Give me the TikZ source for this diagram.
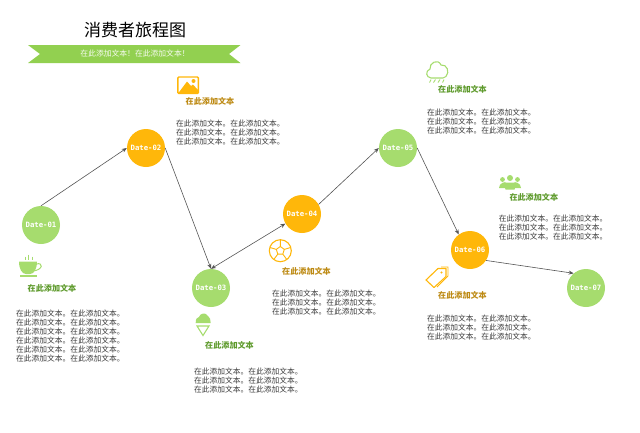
\documentclass[tikz,border=0pt]{standalone}
\usepackage{fontspec}
\setmainfont{Noto Sans CJK SC}
\newfontfamily\datefont{DejaVu Sans Mono}
\usetikzlibrary{arrows.meta}
\definecolor{StepGreen}{HTML}{A6DC6E}
\definecolor{StepOrange}{HTML}{FFB70A}
\definecolor{BannerGreen}{HTML}{92D050}
\definecolor{LabelGreen}{HTML}{5E9A2C}
\definecolor{LabelOrange}{HTML}{BD8A14}
\definecolor{BodyGray}{HTML}{3A3A3A}
\definecolor{LinkGray}{HTML}{555555}
\newcommand{\bodyline}{在此添加文本。在此添加文本。}
\tikzset{
    date node/.style={circle, minimum size=38pt, inner sep=0pt, text=white,
        font=\datefont\bfseries\fontsize{7.3}{8}\selectfont},
    date green/.style={date node, fill=StepGreen},
    date orange/.style={date node, fill=StepOrange},
    link/.style={draw=LinkGray, line width=0.6pt, -{Stealth[length=5pt, width=4pt]}},
    body text/.style={anchor=north west, align=left, inner sep=0pt, text=BodyGray,
        font=\fontsize{7.75}{9}\selectfont},
    label text/.style={anchor=west, inner sep=0pt,
        font=\bfseries\fontsize{8.1}{9}\selectfont},
    label green/.style={label text, text=LabelGreen},
    label orange/.style={label text, text=LabelOrange}
}

\begin{document}
\begin{tikzpicture}[x=1pt, y=-1pt]
\useasboundingbox (0,0) rectangle (640,432);

% Titulo y cinta
\node[inner sep=0pt, text=black, font=\fontsize{17}{18}\selectfont] (title) at (135,30) {消费者旅程图};
\fill[BannerGreen] (28,45) -- (240.5,45) -- (229,54) -- (240.5,63) -- (28,63) -- (40,54) -- cycle;
\node[inner sep=0pt, text=white!92!BannerGreen, font=\fontsize{7.8}{9}\selectfont] (subtitle) at (135,53.5) {在此添加文本！在此添加文本！};

% Circulos de cada fecha
\node[date green] (d1) at (41,225) {Date-01};
\node[date orange] (d2) at (146,148) {Date-02};
\node[date green] (d3) at (211,288) {Date-03};
\node[date orange] (d4) at (302,214) {Date-04};
\node[date green] (d5) at (398,148) {Date-05};
\node[date orange] (d6) at (470,250) {Date-06};
\node[date green] (d7) at (586,288) {Date-07};

% Conectores
\draw[link] (d1.north) -- (d2.west);
\draw[link] (d2.east) -- (d3.north);
\draw[link, {Stealth[length=5pt, width=4pt]}-{Stealth[length=5pt, width=4pt]}] (d3.north) -- (d4.210);
\draw[link] (d4.30) -- (d5.west);
\draw[link] (d5.east) -- (d6.126);
\draw[link] (d6.-33) -- (d7.130);

% Etiquetas
\node[label green] (label1) at (27.5,288.2) {在此添加文本};
\node[label orange] (label2) at (185.5,101) {在此添加文本};
\node[label green] (label3) at (205,345.2) {在此添加文本};
\node[label orange] (label4) at (282,271.5) {在此添加文本};
\node[label green] (label5) at (438,89.8) {在此添加文本};
\node[label green] (label6a) at (509.3,197.2) {在此添加文本};
\node[label orange] (label6) at (438,295.8) {在此添加文本};

% Bloques de texto
\node[body text] (body1) at (16,309.8) {\bodyline\\\bodyline\\\bodyline\\\bodyline\\\bodyline\\\bodyline};
\node[body text] (body2) at (176,120) {\bodyline\\\bodyline\\\bodyline};
\node[body text] (body3) at (194,367.8) {\bodyline\\\bodyline\\\bodyline};
\node[body text] (body4) at (272,290.2) {\bodyline\\\bodyline\\\bodyline};
\node[body text] (body5) at (427,108.8) {\bodyline\\\bodyline\\\bodyline};
\node[body text] (body6a) at (498.7,215.2) {\bodyline\\\bodyline\\\bodyline};
\node[body text] (body6) at (427,314.5) {\bodyline\\\bodyline\\\bodyline};

% Icono: taza
\fill[StepGreen] (19,261.5) -- (37,261.5) .. controls (37,269) and (34,274) .. (30,274) -- (26,274) .. controls (22,274) and (19,269) .. (19,261.5) -- cycle;
\draw[StepGreen, line width=1pt] (36,264) .. controls (44,262) and (43,270) .. (33,271);
\fill[StepGreen] (20,275) rectangle (37,276.8);
\draw[StepGreen, line width=0.8pt] (25,256.5) -- (25,260) (28.5,254.5) -- (28.5,260) (32,256.5) -- (32,260);

% Icono: imagen
\draw[StepOrange, line width=1.4pt, rounded corners=1pt] (177.8,77) rectangle (198.3,93.5);
\fill[StepOrange] (178,93.5) -- (187,81.5) -- (191,86) -- (193,84.5) -- (198,90) -- (198,93.5) -- cycle;
\fill[StepOrange] (193.5,81) circle (2pt);

% Icono: helado
\fill[StepGreen] (195.7,323) .. controls (195.7,319) and (197,317) .. (199,317) .. controls (200,313) and (206,312) .. (208,316) .. controls (210,317) and (210.7,320) .. (210.7,323) -- cycle;
\draw[StepGreen, line width=1.1pt, line join=miter] (197,326) -- (209,326) -- (203,335.5) -- cycle;

% Icono: balon
\draw[StepOrange, line width=1.1pt] (280.3,250.7) circle (11pt);
\draw[StepOrange, line width=0.9pt] (280.3,246.5) -- (284.3,249.4) -- (282.8,254.1) -- (277.8,254.1) -- (276.3,249.4) -- cycle;
\draw[StepOrange, line width=0.9pt] (280.3,246.5) -- (280.3,240) (284.3,249.4) -- (290.6,247.5) (282.8,254.1) -- (286.8,259.5) (277.8,254.1) -- (273.8,259.5) (276.3,249.4) -- (270,247.5);

% Icono: nube
\draw[StepGreen, line width=1.1pt] (431,78) .. controls (426,77.5) and (425,71) .. (430,69) .. controls (429,63) and (438,58) .. (441,65) .. controls (447,64) and (450,72) .. (446,76.5) .. controls (445,77.5) and (444,78) .. (443,78) -- cycle;
\draw[StepGreen, line width=0.9pt] (431,79.5) -- (429.5,82.5) (435.5,79.5) -- (433.5,82.5) (440,79.5) -- (438,82.5) (444,79.5) -- (442.5,82.5);

% Icono: personas
\fill[StepGreen] (510,178) circle (3pt);
\fill[StepGreen] (502.5,179.5) circle (2.4pt);
\fill[StepGreen] (517.5,179.5) circle (2.4pt);
\fill[StepGreen] (499,188) .. controls (499,183) and (505,181.5) .. (506,182.5) -- (514,182.5) .. controls (515,181.5) and (521,183) .. (521,188) -- (515,188) -- (514.5,189.5) -- (505.5,189.5) -- (505,188) -- cycle;

% Icono: etiqueta
\draw[StepOrange, line width=1.1pt, line join=round] (426,280) -- (438,268.5) -- (446,268.5) -- (446,276.5) -- (434,287.5) -- cycle;
\draw[StepOrange, line width=0.9pt] (441,267) -- (448,267) -- (448,276) -- (437,287);
\fill[StepOrange] (441.5,272.5) circle (1.2pt);

\end{tikzpicture}
\end{document}
